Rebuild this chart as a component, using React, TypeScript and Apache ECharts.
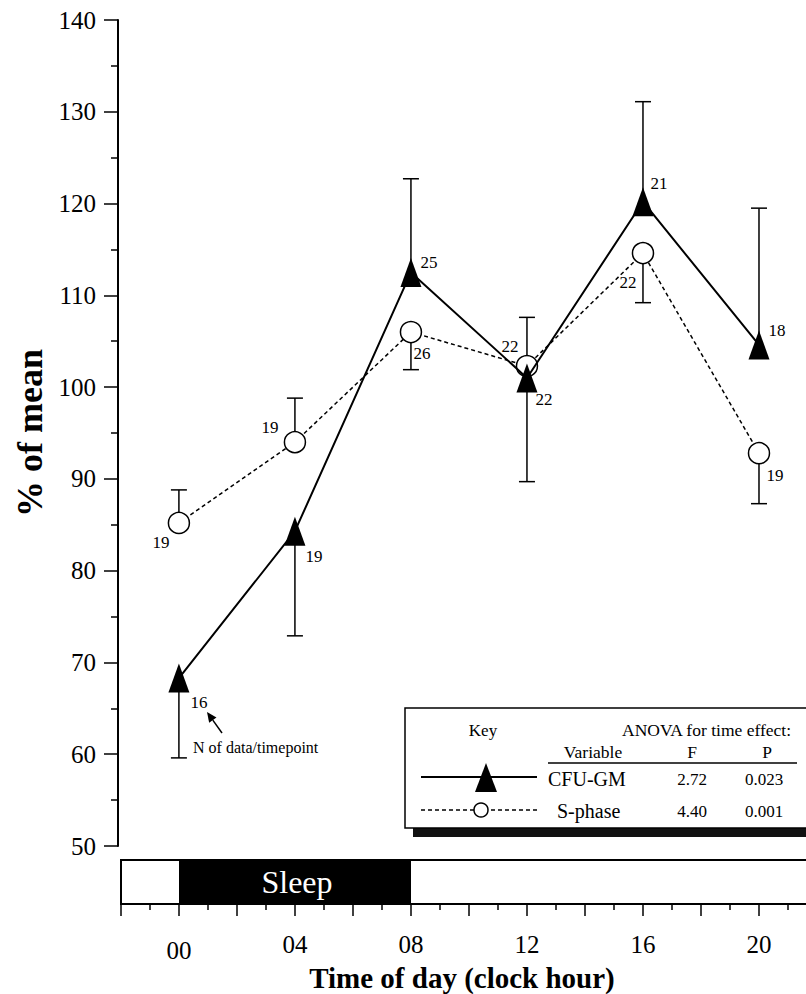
import React, { useEffect, useRef } from "react";
import * as echarts from "echarts";

const FONT = '"Liberation Serif", "Times New Roman", serif';

// ---- data ----
const hours = [0, 4, 8, 12, 16, 20];
const cfuMean = [68.3, 84.3, 112.5, 101.0, 120.2, 104.6];
const cfuErrEnd = [59.6, 72.9, 122.7, 89.7, 131.1, 119.5];
const cfuN = [16, 19, 25, 22, 21, 18];
const sMean = [85.2, 94.0, 106.0, 102.3, 114.6, 92.8];
const sErrEnd = [88.8, 98.8, 101.9, 107.6, 109.2, 87.3];
const sN = [19, 19, 26, 22, 22, 19];
const sleepSpan = [0, 8];
const anovaVars = ["CFU-GM", "S-phase"];
const anovaF = ["2.72", "4.40"];
const anovaP = ["0.023", "0.001"];

// ---- label placement (px offsets from marker centre) ----
const cfuLabelOffsets = [[20, 24], [19, 25], [18, -10], [17, 22], [16, -18], [18, -14]];
const sLabelOffsets = [[-18, 20], [-25, -15], [11, 21], [-17, -20], [-15, 29], [16, 22]];

const errRender = (params: any, api: any) => {
  const x = api.value(0);
  const m = api.value(1);
  const e = api.value(2);
  const p1 = api.coord([x, m]);
  const p2 = api.coord([x, e]);
  const hw = 8;
  return {
    type: "group",
    children: [
      { type: "line", shape: { x1: p1[0], y1: p1[1], x2: p2[0], y2: p2[1] }, style: { stroke: "#000", lineWidth: 1.5 } },
      { type: "line", shape: { x1: p2[0] - hw, y1: p2[1], x2: p2[0] + hw, y2: p2[1] }, style: { stroke: "#000", lineWidth: 1.5 } },
    ],
  };
};

export default function App() {
  const ref = useRef<HTMLDivElement>(null);
  useEffect(() => {
    if (!ref.current) return;
    const chart = echarts.init(ref.current, undefined, { renderer: "svg" });

    // arrow for annotation
    const tail = [222, 733];
    const tip = [207, 712];
    const dx = tip[0] - tail[0];
    const dy = tip[1] - tail[1];
    const len = Math.sqrt(dx * dx + dy * dy);
    const ux = dx / len, uy = dy / len;
    const hl = 10, hw = 4.5;
    const bx = tip[0] - ux * hl, by = tip[1] - uy * hl;
    const arrowHead = [
      [tip[0], tip[1]],
      [bx - uy * hw, by + ux * hw],
      [bx + uy * hw, by - ux * hw],
    ];

    const txt = (text: string, x: number, y: number, size: number, align = "center", extra: any = {}) => ({
      type: "text",
      x,
      y,
      style: { text, fill: "#000", font: `${size}px ${FONT}`, align, verticalAlign: "middle", ...extra },
    });

    const rowY = [779, 811];
    const keyGraphic: any[] = [
      { type: "rect", shape: { x: 413, y: 828, width: 440, height: 9 }, style: { fill: "#111" } },
      { type: "rect", shape: { x: 405, y: 708, width: 440, height: 120 }, style: { fill: "#fff", stroke: "#000", lineWidth: 1.5 } },
      txt("Key", 483, 730, 17),
      txt("ANOVA for time effect:", 791, 730, 17.5, "right"),
      txt("Variable", 593, 752, 17.5),
      txt("F", 692, 752, 17.5),
      txt("P", 767, 752, 17.5),
      { type: "line", shape: { x1: 548, y1: 763, x2: 797, y2: 763 }, style: { stroke: "#000", lineWidth: 1.5 } },
      { type: "line", shape: { x1: 421, y1: 777, x2: 537, y2: 777 }, style: { stroke: "#000", lineWidth: 2 } },
      { type: "polygon", shape: { points: [[486, 763], [475, 792], [497, 792]] }, style: { fill: "#000" } },
      { type: "line", shape: { x1: 421, y1: 810, x2: 537, y2: 810 }, style: { stroke: "#000", lineWidth: 1.5, lineDash: [4, 3] } },
      { type: "circle", shape: { cx: 481, cy: 810, r: 7 }, style: { fill: "#fff", stroke: "#000", lineWidth: 1.5 } },
      txt(anovaVars[0], 548, rowY[0], 20, "left"),
      txt(anovaVars[1], 557, rowY[1], 20, "left"),
      txt(anovaF[0], 692, rowY[0], 17),
      txt(anovaF[1], 692, rowY[1], 17),
      txt(anovaP[0], 764, rowY[0], 17),
      txt(anovaP[1], 764, rowY[1], 17),
      // annotation
      txt("N of data/timepoint", 193, 747, 16, "left"),
      { type: "line", shape: { x1: tail[0], y1: tail[1], x2: bx, y2: by }, style: { stroke: "#000", lineWidth: 1.5 } },
      { type: "polygon", shape: { points: arrowHead }, style: { fill: "#000" } },
    ];

    const option: any = {
      animation: false,
      backgroundColor: "#fff",
      textStyle: { fontFamily: FONT, color: "#000" },
      grid: [
        { left: 118, top: 20, width: 699, height: 826 },
        { left: 121, top: 860, width: 696, height: 44, show: true, borderColor: "#000", borderWidth: 2, backgroundColor: "#fff" },
      ],
      xAxis: [
        { gridIndex: 0, type: "value", min: -2.1, max: 22, show: false },
        {
          gridIndex: 1,
          type: "value",
          min: -2,
          max: 22,
          interval: 2,
          axisLine: { show: true, onZero: false, lineStyle: { color: "#000", width: 2 } },
          axisTick: { show: true, length: 12, lineStyle: { color: "#000", width: 1.5 } },
          minorTick: { show: true, splitNumber: 2, length: 6, lineStyle: { color: "#000", width: 1.5 } },
          splitLine: { show: false },
          axisLabel: {
            margin: 28,
            fontSize: 25,
            fontFamily: FONT,
            color: "#000",
            formatter: (v: number) => {
              if (v < 0 || v > 20 || v % 4 !== 0) return "";
              const s = String(v).padStart(2, "0");
              return v === 0 ? `{low|${s}}` : s;
            },
            rich: { low: { fontSize: 25, fontFamily: FONT, color: "#000", padding: [6, 0, 0, 0] } },
          },
          name: "Time of day (clock hour)",
          nameLocation: "middle",
          nameGap: 58,
          nameTextStyle: { fontSize: 29, fontWeight: "bold", fontFamily: FONT, color: "#000", padding: [0, 14, 0, 0] },
        },
      ],
      yAxis: [
        {
          gridIndex: 0,
          type: "value",
          min: 50,
          max: 140,
          interval: 10,
          axisLine: { show: true, onZero: false, lineStyle: { color: "#000", width: 2 } },
          axisTick: { show: true, length: 14, lineStyle: { color: "#000", width: 1.5 } },
          minorTick: { show: true, splitNumber: 2, length: 7, lineStyle: { color: "#000", width: 1.5 } },
          splitLine: { show: false },
          axisLabel: { margin: 22, fontSize: 25, fontFamily: FONT, color: "#000" },
          name: "% of mean",
          nameLocation: "middle",
          nameRotate: 90,
          nameGap: 70,
          nameTextStyle: { fontSize: 36, fontWeight: "bold", fontFamily: FONT, color: "#000" },
        },
        { gridIndex: 1, type: "value", min: 0, max: 1, show: false },
      ],
      series: [
        {
          type: "custom",
          name: "S-phase SE",
          xAxisIndex: 0,
          yAxisIndex: 0,
          silent: true,
          z: 1,
          renderItem: errRender,
          data: hours.map((h, i) => [h, sMean[i], sErrEnd[i]]),
        },
        {
          type: "custom",
          name: "CFU-GM SE",
          xAxisIndex: 0,
          yAxisIndex: 0,
          silent: true,
          z: 1,
          renderItem: errRender,
          data: hours.map((h, i) => [h, cfuMean[i], cfuErrEnd[i]]),
        },
        {
          type: "line",
          name: "S-phase",
          xAxisIndex: 0,
          yAxisIndex: 0,
          z: 3,
          symbol: "circle",
          symbolSize: 21,
          lineStyle: { color: "#000", width: 1.5, type: [4, 3] },
          itemStyle: { color: "#fff", borderColor: "#000", borderWidth: 1.5 },
          label: {
            show: true,
            position: "inside",
            fontSize: 17,
            fontFamily: FONT,
            color: "#000",
            formatter: (p: any) => String(sN[p.dataIndex]),
          },
          data: hours.map((h, i) => ({ value: [h, sMean[i]], label: { offset: sLabelOffsets[i] } })),
        },
        {
          type: "line",
          name: "CFU-GM",
          xAxisIndex: 0,
          yAxisIndex: 0,
          z: 4,
          symbol: "triangle",
          symbolSize: [21, 29],
          lineStyle: { color: "#000", width: 2 },
          itemStyle: { color: "#000" },
          label: {
            show: true,
            position: "inside",
            fontSize: 17,
            fontFamily: FONT,
            color: "#000",
            formatter: (p: any) => String(cfuN[p.dataIndex]),
          },
          data: hours.map((h, i) => ({ value: [h, cfuMean[i]], label: { offset: cfuLabelOffsets[i] } })),
        },
        {
          type: "custom",
          name: "Sleep",
          xAxisIndex: 1,
          yAxisIndex: 1,
          silent: true,
          renderItem: (params: any, api: any) => {
            const a = api.coord([api.value(0), 1]);
            const b = api.coord([api.value(1), 0]);
            return {
              type: "group",
              children: [
                { type: "rect", shape: { x: a[0], y: a[1], width: b[0] - a[0], height: b[1] - a[1] }, style: { fill: "#000" } },
                {
                  type: "text",
                  style: {
                    text: "Sleep",
                    x: (a[0] + b[0]) / 2 + 2,
                    y: (a[1] + b[1]) / 2,
                    fill: "#fff",
                    font: `32px ${FONT}`,
                    align: "center",
                    verticalAlign: "middle",
                  },
                },
              ],
            };
          },
          data: [[sleepSpan[0], sleepSpan[1]]],
        },
      ],
      graphic: keyGraphic,
    };
    chart.setOption(option);
    return () => chart.dispose();
  }, []);
  return <div ref={ref} style={{ position: "fixed", left: 0, top: 0, width: 840, height: 994, background: "#fff" }} />;
}
